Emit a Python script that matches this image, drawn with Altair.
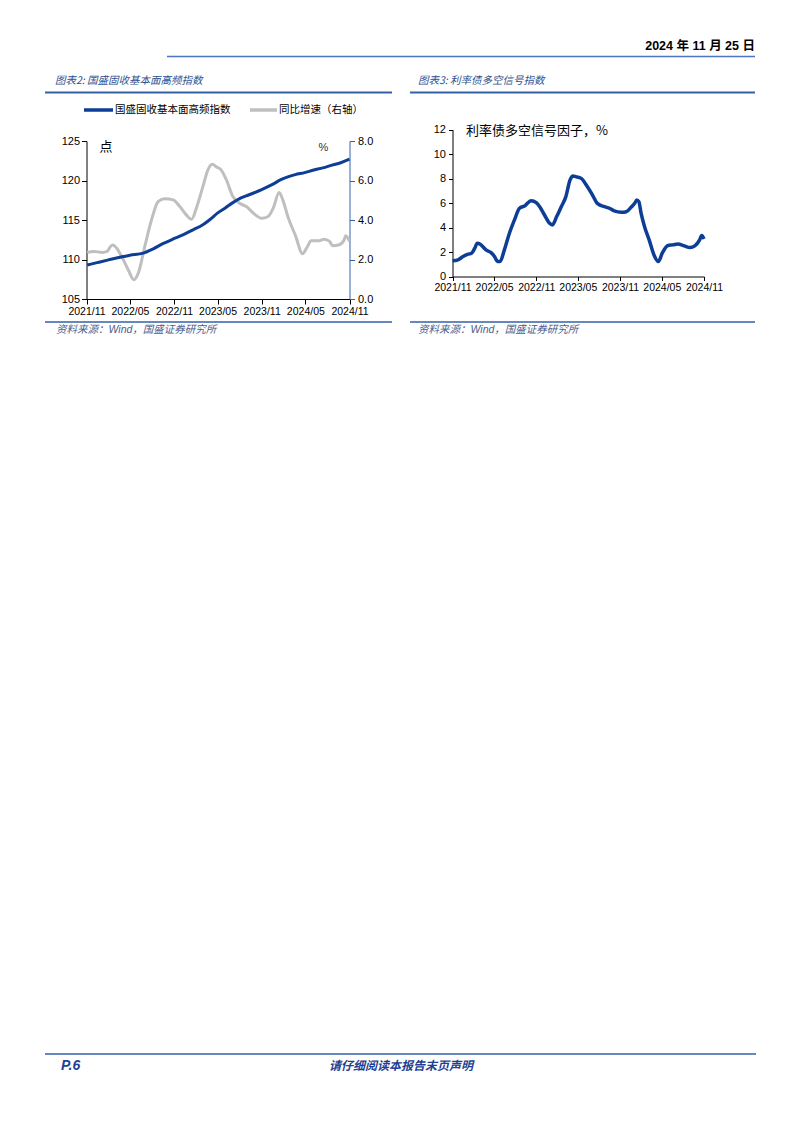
import altair as alt
import pandas as pd

# ---------------- data ----------------
idx_dates = ["2021-11-04", "2021-12-15", "2022-02-01", "2022-03-15", "2022-05-01", "2022-06-25",
             "2022-08-06", "2022-09-15", "2022-10-28", "2022-12-10", "2023-01-19", "2023-03-01",
             "2023-04-01", "2023-05-02", "2023-06-01", "2023-07-04", "2023-08-01", "2023-08-29",
             "2023-10-01", "2023-11-01", "2023-12-16", "2024-01-20", "2024-02-18", "2024-03-20",
             "2024-04-28", "2024-06-01", "2024-07-13", "2024-08-20", "2024-09-25", "2024-11-01"]
idx_values = [109.3, 109.6, 109.95, 110.25, 110.55, 110.8,
              111.35, 112.0, 112.6, 113.15, 113.75, 114.4,
              115.1, 115.9, 116.5, 117.2, 117.7, 118.05,
              118.45, 118.85, 119.5, 120.1, 120.45, 120.75,
              121.0, 121.3, 121.6, 121.95, 122.25, 122.7]

yoy_dates = ["2021-11-04", "2021-12-01", "2022-01-05", "2022-01-26", "2022-02-09", "2022-02-19",
             "2022-03-06", "2022-03-27", "2022-04-24", "2022-05-17", "2022-06-05", "2022-07-02",
             "2022-07-30", "2022-08-27", "2022-09-24", "2022-10-28", "2022-11-25", "2022-12-22",
             "2023-01-13", "2023-02-04", "2023-03-01", "2023-03-22", "2023-04-10", "2023-04-25",
             "2023-05-16", "2023-06-07", "2023-07-04", "2023-08-01", "2023-08-29", "2023-10-01",
             "2023-11-01", "2023-11-28", "2023-12-19", "2024-01-13", "2024-01-28", "2024-02-18",
             "2024-03-22", "2024-04-19", "2024-05-10", "2024-05-25", "2024-06-28", "2024-07-19",
             "2024-08-10", "2024-08-22", "2024-09-19", "2024-10-10", "2024-10-16", "2024-11-01"]
yoy_values = [2.36, 2.41, 2.36, 2.41, 2.66, 2.73,
              2.58, 2.16, 1.48, 0.98, 1.32, 2.66,
              4.01, 4.94, 5.07, 5.02, 4.68, 4.26,
              4.04, 4.68, 5.69, 6.54, 6.82, 6.70,
              6.54, 6.03, 5.19, 4.85, 4.68, 4.31,
              4.09, 4.18, 4.60, 5.39, 5.02, 4.18,
              3.17, 2.29, 2.66, 2.95, 2.95, 3.03,
              2.92, 2.70, 2.75, 3.00, 3.20, 2.92]

sig_dates = ["2021-11-01", "2021-11-25", "2021-12-17", "2022-01-08", "2022-01-23", "2022-02-06",
             "2022-02-17", "2022-03-02", "2022-03-27", "2022-04-18", "2022-05-03", "2022-05-17",
             "2022-05-27", "2022-06-15", "2022-07-07", "2022-07-29", "2022-08-20", "2022-09-11",
             "2022-10-10", "2022-11-01", "2022-11-16", "2022-12-07", "2022-12-29", "2023-01-10",
             "2023-01-29", "2023-02-18", "2023-03-10", "2023-03-28", "2023-04-10", "2023-04-22",
             "2023-05-16", "2023-06-07", "2023-07-04", "2023-07-25", "2023-08-25", "2023-09-16",
             "2023-10-07", "2023-11-07", "2023-11-28", "2023-12-19", "2024-01-04", "2024-01-13",
             "2024-01-22", "2024-02-01", "2024-02-16", "2024-03-07", "2024-03-28", "2024-04-16",
             "2024-05-04", "2024-05-28", "2024-06-19", "2024-07-10", "2024-08-07", "2024-09-01",
             "2024-09-22", "2024-10-13", "2024-10-22", "2024-11-01"]
sig_values = [1.28, 1.36, 1.63, 1.82, 1.90, 2.31,
              2.72, 2.63, 2.17, 1.95, 1.63, 1.22,
              1.22, 2.17, 3.53, 4.62, 5.57, 5.76,
              6.19, 6.03, 5.70, 5.02, 4.34, 4.21,
              4.89, 5.70, 6.52, 7.87, 8.20, 8.15,
              8.01, 7.47, 6.65, 5.97, 5.70, 5.57,
              5.35, 5.24, 5.29, 5.65, 5.97, 6.25,
              6.11, 5.16, 4.07, 2.99, 1.76, 1.22,
              1.95, 2.53, 2.58, 2.66, 2.50, 2.36,
              2.50, 2.99, 3.34, 3.07]

x_ticks = ["2021/11", "2022/05", "2022/11", "2023/05", "2023/11", "2024/05", "2024/11"]
left_ticks = [105, 110, 115, 120, 125]
right_ticks = [0, 2, 4, 6, 8]
sig_ticks = [0, 2, 4, 6, 8, 10, 12]

series_names = ["国盛固收基本面高频指数", "同比增速（右轴）"]

# ---------------- layout helpers ----------------
M = 8            # page margin
W, H = 786, 1116  # canvas (page minus margins)

BLUE = "#0D3D94"
GRAY = "#BFBFBF"
RULE_BLUE = "#3460A8"
TITLE_BLUE = "#2E4F8E"
FOOT_BLUE = "#1F3F93"
NUM_FONT = "Liberation Sans"
CJK_FONT = "Noto Sans CJK SC"

one = pd.DataFrame({"t": [0]})


def label(text, x, y, **kw):
    return alt.Chart(pd.DataFrame({"t": [text]})).mark_text(baseline="middle", **kw).encode(
        text="t:N", x=alt.value(x - M), y=alt.value(y - M))


def hline(x1, x2, y, color, width):
    return alt.Chart(one).mark_rule(color=color, strokeWidth=width).encode(
        x=alt.value(x1 - M), x2=alt.value(x2 - M), y=alt.value(y - M))


def dt(s):
    return alt.DateTime(year=int(s[:4]), month=int(s[5:7]), date=1, utc=True)


T0, T1 = dt("2021/11"), dt("2024/11")
tick_dt = [dt(s) for s in x_ticks]

df_idx = pd.DataFrame({"date": idx_dates, "v": idx_values})
df_yoy = pd.DataFrame({"date": yoy_dates, "v": yoy_values})
df_sig = pd.DataFrame({"date": sig_dates, "v": sig_values})

base_axis = dict(grid=False, title=None, labelFont=NUM_FONT, labelColor="#000000",
                 domainColor="#000000", tickColor="#000000", domainWidth=1, tickWidth=1,
                 labelFlush=False, labelOverlap=False, labelBound=False)

# ---- left panel geometry (page px) ----
LX0, LX1 = 86.5, 349.5
LY0, LY1 = 299.0, 141.0
# ---- right panel geometry ----
RX0, RX1 = 452.5, 704.0
RY0, RY1 = 276.5, 129.5

x_left = alt.X("date:T",
               scale=alt.Scale(type="utc", domain=[T0, T1], range=[LX0 - M, LX1 - M]),
               axis=alt.Axis(orient="bottom", offset=-(H - (LY0 - M)), values=tick_dt,
                             format="%Y/%m", labelFontSize=10.5, tickSize=5, labelPadding=2,
                             **base_axis))
x_left_noaxis = alt.X("date:T",
                      scale=alt.Scale(type="utc", domain=[T0, T1], range=[LX0 - M, LX1 - M]),
                      axis=None)

idx_line = alt.Chart(df_idx).mark_line(color=BLUE, strokeWidth=3, interpolate="monotone").encode(
    x=x_left,
    y=alt.Y("v:Q", scale=alt.Scale(domain=[105, 125], range=[LY0 - M, LY1 - M], nice=False),
            axis=alt.Axis(orient="left", offset=-(LX0 - M), values=left_ticks, format="d",
                          labelFontSize=11, tickSize=5, labelPadding=2, **base_axis)))

yoy_axis = dict(base_axis)
yoy_axis.update(domainColor=RULE_BLUE, tickColor=RULE_BLUE)
yoy_line = alt.Chart(df_yoy).mark_line(color=GRAY, strokeWidth=3, interpolate="monotone").encode(
    x=x_left_noaxis,
    y=alt.Y("v:Q", scale=alt.Scale(domain=[0, 8], range=[LY0 - M, LY1 - M], nice=False),
            axis=alt.Axis(orient="right", offset=-(W - (LX1 - M)), values=right_ticks, format=".1f",
                          labelFontSize=11, tickSize=5, labelPadding=3, **yoy_axis)))

sig_line = alt.Chart(df_sig).mark_line(color=BLUE, strokeWidth=3.5, interpolate="monotone").encode(
    x=alt.X("date:T",
            scale=alt.Scale(type="utc", domain=[T0, T1], range=[RX0 - M, RX1 - M]),
            axis=alt.Axis(orient="bottom", offset=-(H - (RY0 - M)), values=tick_dt,
                          format="%Y/%m", labelFontSize=10.5, tickSize=4, labelPadding=2,
                          **base_axis)),
    y=alt.Y("v:Q", scale=alt.Scale(domain=[0, 12], range=[RY0 - M, RY1 - M], nice=False),
            axis=alt.Axis(orient="left", offset=-(RX0 - M), values=sig_ticks, format="d",
                          labelFontSize=11, tickSize=4, labelPadding=3, **base_axis)))

# ---------------- page decorations ----------------
deco = [
    hline(167, 755, 56.5, "#4A74C0", 1.5),
    label("2024 年 11 月 25 日", 755, 46, align="right", fontWeight="bold", fontSize=12.5,
          font=f"{NUM_FONT}, {CJK_FONT}", color="#000000"),
    label("图表2: 国盛固收基本面高频指数", 55, 81, align="left", fontStyle="italic", fontSize=10.5,
          font=CJK_FONT, color=TITLE_BLUE),
    label("图表3: 利率债多空信号指数", 418, 81, align="left", fontStyle="italic", fontSize=10.5,
          font=CJK_FONT, color=TITLE_BLUE),
    hline(45, 392, 92.5, RULE_BLUE, 2),
    hline(410, 755, 92.5, RULE_BLUE, 2),
    # legend of left chart
    hline(84, 113, 110, BLUE, 3.5),
    label(series_names[0], 115, 110, align="left", fontSize=10.5, font=CJK_FONT, color="#000000"),
    hline(250, 277, 110, GRAY, 3.5),
    label(series_names[1], 279, 110, align="left", fontSize=10.5, font=CJK_FONT, color="#000000"),
    label("点", 106, 147, align="center", fontSize=13, font=CJK_FONT, color="#000000"),
    label("%", 323.5, 148, align="center", fontSize=11, font=NUM_FONT, color="#333333"),
    label("利率债多空信号因子，%", 466, 131, align="left", fontSize=13, font=CJK_FONT, color="#000000"),
    hline(45, 392, 322, RULE_BLUE, 1.5),
    hline(410, 755, 322, RULE_BLUE, 1.5),
    label("资料来源：Wind，国盛证券研究所", 56, 330, align="left", fontStyle="italic", fontSize=10.5,
          font=f"{NUM_FONT}, {CJK_FONT}", color="#4A5E8E"),
    label("资料来源：Wind，国盛证券研究所", 418, 330, align="left", fontStyle="italic", fontSize=10.5,
          font=f"{NUM_FONT}, {CJK_FONT}", color="#4A5E8E"),
    hline(45, 756, 1054, RULE_BLUE, 1.5),
    label("P.6", 61, 1065.5, align="left", fontStyle="italic", fontWeight="bold", fontSize=14,
          font=NUM_FONT, color=FOOT_BLUE),
    label("请仔细阅读本报告末页声明", 401, 1066, align="center", fontStyle="italic", fontWeight="bold",
          fontSize=12, font=CJK_FONT, color=FOOT_BLUE),
]

chart = alt.layer(yoy_line, idx_line, sig_line, *deco).resolve_scale(
    x="independent", y="independent"
).resolve_axis(
    x="independent", y="independent"
).properties(
    width=W, height=H, padding=0,
    autosize=alt.AutoSizeParams(type="none"),
    background="white",
).configure_view(stroke=None)

chart.save("out.html", embed_options={"renderer": "svg", "actions": False})
